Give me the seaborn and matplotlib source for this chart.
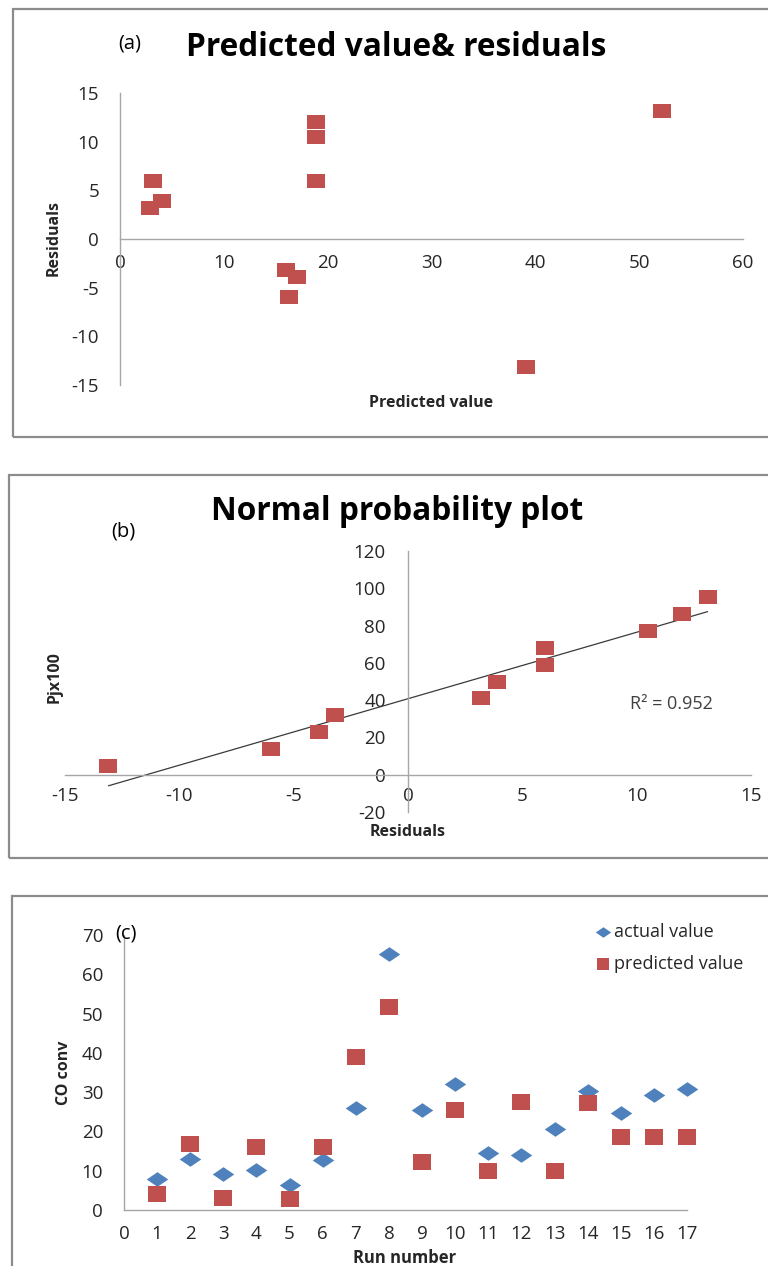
import numpy as np
import pandas as pd
import matplotlib
matplotlib.use("Agg")
import matplotlib.pyplot as plt
import seaborn as sns
from matplotlib.patches import Rectangle

# (a) residuals against predicted value
pred_a = [2.9, 3.2, 4.0, 16.0, 16.3, 17.0, 18.9, 18.9, 18.9, 39.1, 52.2]
resid_a = [3.2, 6.0, 3.9, -3.2, -6.0, -3.9, 12.0, 10.5, 6.0, -13.1, 13.1]

# (b) ordered residuals and plotting position Pj x 100
resid_sorted = [-13.1, -6.0, -3.9, -3.2, 3.2, 3.9, 6.0, 6.0, 10.5, 12.0, 13.1]
pj100 = [4.5, 13.6, 22.7, 31.8, 40.9, 50.0, 59.1, 68.2, 77.3, 86.4, 95.5]
r2_text = "R² = 0.952"

# (c) CO conversion per run
runs = list(range(1, 18))
actual = [7.8, 13.1, 9.1, 10.3, 6.3, 12.7, 26.0, 65.1, 25.4, 32.1, 14.4, 14.1,
          20.5, 30.4, 24.8, 29.2, 30.7]
predicted = [4.0, 16.7, 3.0, 16.1, 2.9, 16.0, 38.9, 51.8, 12.1, 25.4, 9.9, 27.6,
             10.0, 27.3, 18.6, 18.6, 18.6]

RED = "#C0504D"
BLUE = "#4F81BD"
AXIS_GREY = "#A6A6A6"
TXT = "#262626"

sns.set_theme(style="white")
plt.rcParams["font.family"] = ["Open Sans", "DejaVu Sans"]
plt.rcParams["axes.unicode_minus"] = False

W, H = 768, 1266
fig = plt.figure(figsize=(W / 100, H / 100), dpi=100)


def rect(x0, y0, x1, y1):
    """Pixel box (top-left origin) to figure-fraction rect."""
    return [x0 / W, 1 - y1 / H, (x1 - x0) / W, (y1 - y0) / H]


def fxy(x, y):
    return x / W, 1 - y / H


# flattened square and diamond markers
SQUARE = np.array([(-1, -0.88), (1, -0.88), (1, 0.88), (-1, 0.88), (-1, -0.88)])
DIAMOND = np.array([(0, -0.68), (1, 0), (0, 0.68), (-1, 0), (0, -0.68)])

# grey frames around each chart
for (x0, y0, x1, y1) in [(13, 9, 800, 437), (9, 475, 800, 858), (12, 896, 800, 1300)]:
    fig.patches.append(Rectangle(fxy(x0, y1), (x1 - x0) / W, (y1 - y0) / H,
                                 transform=fig.transFigure, fill=False,
                                 edgecolor="#8C8C8C", linewidth=1.6, zorder=0))


def style_axes(ax):
    for s in ["top", "right"]:
        ax.spines[s].set_visible(False)
    for s in ["left", "bottom"]:
        ax.spines[s].set_color(AXIS_GREY)
        ax.spines[s].set_linewidth(1.0)
    ax.tick_params(length=0, labelsize=13.5, colors=TXT)
    ax.set_facecolor("none")


# ---------- (a) ----------
ax_a = fig.add_axes(rect(120, 93, 743, 385))
sns.scatterplot(x=pred_a, y=resid_a, ax=ax_a, marker=SQUARE, s=150,
                color=RED, linewidth=0, zorder=3, clip_on=False)
ax_a.set_xlim(0, 60)
ax_a.set_ylim(-15, 15)
ax_a.set_xticks(range(0, 61, 10))
ax_a.set_yticks(range(-15, 16, 5))
style_axes(ax_a)
ax_a.spines["bottom"].set_position(("data", 0))
ax_a.tick_params(axis="x", pad=11)
ax_a.tick_params(axis="y", pad=15)
ax_a.set_xlabel("Predicted value", fontsize=11.5, fontweight="bold", color=TXT)
ax_a.xaxis.set_label_coords(0.499, -0.062)
ax_a.xaxis.label.set_va("center")
ax_a.set_ylabel("Residuals", fontsize=11.5, fontweight="bold", color=TXT)
ax_a.yaxis.set_label_coords(-0.106, 0.503)
ax_a.yaxis.label.set_va("center")
fig.text(*fxy(396, 48), "Predicted value& residuals", fontsize=22.8,
         fontweight="bold", color="black", ha="center", va="center")
fig.text(*fxy(130, 44), "(a)", fontsize=14.5, color="black", ha="center", va="center")

# ---------- (b) ----------
ax_b = fig.add_axes(rect(65, 551, 751, 812))
df_b = pd.DataFrame({"Residuals": resid_sorted, "Pj": pj100})
sns.regplot(data=df_b, x="Residuals", y="Pj", ax=ax_b, ci=None, truncate=True,
            scatter=False, line_kws=dict(color="#3A3A3A", linewidth=0.9, zorder=2))
sns.scatterplot(data=df_b, x="Residuals", y="Pj", ax=ax_b, marker=SQUARE, s=150,
                color=RED, linewidth=0, zorder=3, clip_on=False)
ax_b.set_xlim(-15, 15)
ax_b.set_ylim(-20, 120)
ax_b.set_xticks(range(-15, 16, 5))
ax_b.set_yticks(range(-20, 121, 20))
style_axes(ax_b)
ax_b.spines["bottom"].set_position(("data", 0))
ax_b.spines["left"].set_position(("data", 0))
ax_b.tick_params(axis="x", pad=9)
ax_b.tick_params(axis="y", pad=16)
ax_b.set_xlabel("Residuals", fontsize=11.5, fontweight="bold", color=TXT)
ax_b.xaxis.set_label_coords(0.5, -0.075)
ax_b.xaxis.label.set_va("center")
ax_b.set_ylabel("Pjx100", fontsize=11.5, fontweight="bold", color=TXT)
ax_b.yaxis.set_label_coords(-0.0146, 0.517)
ax_b.yaxis.label.set_va("center")
ax_b.text(11.54, 38.0, r2_text, fontsize=13, color="#404040",
          ha="center", va="center")
fig.text(*fxy(397, 512), "Normal probability plot", fontsize=22.8,
         fontweight="bold", color="black", ha="center", va="center")
fig.text(*fxy(123, 532), "(b)", fontsize=14.5, color="black", ha="center", va="center")

# ---------- (c) ----------
ax_c = fig.add_axes(rect(124, 935, 687, 1210))
sns.scatterplot(x=runs, y=actual, ax=ax_c, marker=DIAMOND, s=240, color=BLUE,
                linewidth=0, zorder=3, label="actual value", clip_on=False)
sns.scatterplot(x=runs, y=predicted, ax=ax_c, marker=SQUARE, s=165, color=RED,
                linewidth=0, zorder=3, label="predicted value", clip_on=False)
ax_c.set_xlim(0, 17)
ax_c.set_ylim(0, 70)
ax_c.set_xticks(range(0, 18))
ax_c.set_yticks(range(0, 71, 10))
style_axes(ax_c)
ax_c.tick_params(axis="x", pad=11)
ax_c.tick_params(axis="y", pad=15)
ax_c.set_xlabel("Run number", fontsize=12, fontweight="bold", color=TXT)
ax_c.xaxis.set_label_coords(0.499, -0.1745)
ax_c.xaxis.label.set_va("center")
ax_c.set_ylabel("CO conv", fontsize=11.5, fontweight="bold", color=TXT)
ax_c.yaxis.set_label_coords(-0.1066, 0.498)
ax_c.yaxis.label.set_va("center")
leg = ax_c.legend(loc="upper left", bbox_to_anchor=fxy(597, 923),
                  bbox_transform=fig.transFigure, frameon=False, fontsize=13,
                  handlelength=0.7, handletextpad=0.25, labelspacing=0.75,
                  markerscale=0.72, borderaxespad=0, borderpad=0)
for t in leg.get_texts():
    t.set_color(TXT)
fig.text(*fxy(126, 933), "(c)", fontsize=14.5, color="black", ha="center", va="center")

fig.savefig("out.png", dpi=100, facecolor="white")
